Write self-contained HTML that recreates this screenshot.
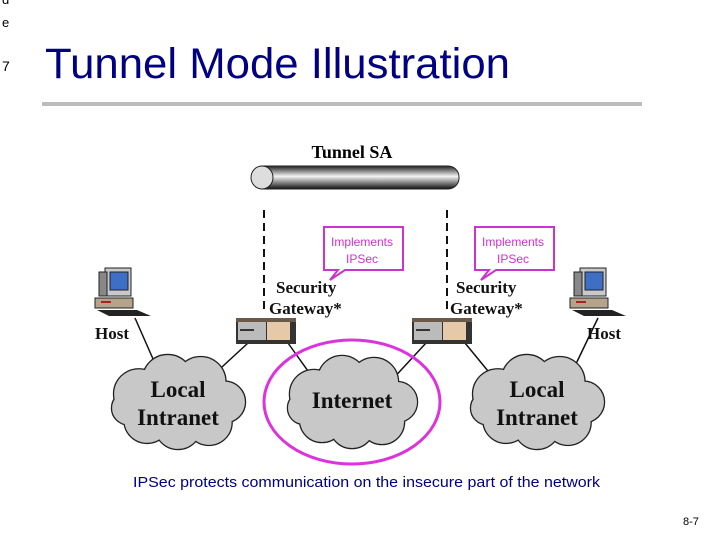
<!DOCTYPE html>
<html><head><meta charset="utf-8"><style>
html,body{margin:0;padding:0;background:#fff;}
svg{display:block;}
</style></head><body>
<svg width="720" height="540" viewBox="0 0 720 540" xmlns="http://www.w3.org/2000/svg">
<defs>
<linearGradient id="tube" x1="0" y1="0" x2="0" y2="1">
<stop offset="0" stop-color="#222"/><stop offset="0.45" stop-color="#f4f4f4"/><stop offset="1" stop-color="#111"/>
</linearGradient>
<g id="cloudshape">
<circle cx="-38" cy="-8" r="24"/><circle cx="-10" cy="-22" r="24"/><circle cx="22" cy="-20" r="24"/>
<circle cx="45" cy="0" r="20"/><circle cx="30" cy="20" r="22"/><circle cx="0" cy="24" r="22"/>
<circle cx="-30" cy="18" r="22"/><circle cx="-48" cy="6" r="16"/><circle cx="0" cy="0" r="30"/>
</g>
<g id="cloud">
<use href="#cloudshape" fill="#c8c8c8" stroke="#222" stroke-width="2.5"/>
<use href="#cloudshape" fill="#c8c8c8"/>
</g>
<g id="pc">
<rect x="10" y="0" width="26" height="28" fill="#c9c9c9" stroke="#222"/>
<rect x="15" y="4" width="18" height="18" fill="#3d6fc4" stroke="#222"/>
<rect x="4" y="4" width="8" height="24" fill="#888" stroke="#222"/>
<rect x="0" y="30" width="38" height="10" fill="#b5a48c" stroke="#222"/>
<line x1="6" y1="34" x2="16" y2="34" stroke="#a22" stroke-width="2"/>
<polygon points="2,42 42,42 56,48 14,48" fill="#222"/>
</g>
<g id="gw">
<rect x="0" y="0" width="60" height="26" fill="#333"/>
<rect x="2" y="4" width="28" height="18" fill="#bbb"/>
<rect x="31" y="4" width="23" height="18" fill="#e5c9a8"/>
<line x1="4" y1="12" x2="18" y2="12" stroke="#333" stroke-width="2"/>
<rect x="0" y="0" width="60" height="4" fill="#6b5a4a"/>
</g>
</defs>

<text x="2" y="4" font-family="Liberation Sans,sans-serif" font-size="13">d</text>
<text x="2" y="27" font-family="Liberation Sans,sans-serif" font-size="13">e</text>
<text x="2" y="71" font-family="Liberation Sans,sans-serif" font-size="14">7</text>
<text x="45" y="78" font-family="Liberation Sans,sans-serif" font-size="43" fill="#000080" textLength="465" lengthAdjust="spacingAndGlyphs">Tunnel Mode Illustration</text>
<rect x="42" y="102" width="600" height="4" fill="#bdbdbd"/>

<text x="352" y="158" text-anchor="middle" font-family="Liberation Serif,serif" font-weight="bold" font-size="18">Tunnel SA</text>
<rect x="252" y="166" width="207" height="23" rx="11" fill="url(#tube)" stroke="#222"/>
<ellipse cx="262" cy="177.5" rx="11" ry="11.5" fill="#ddd" stroke="#222"/>

<line x1="264" y1="210" x2="264" y2="312" stroke="#111" stroke-width="2" stroke-dasharray="8,5"/>
<line x1="447" y1="210" x2="447" y2="312" stroke="#111" stroke-width="2" stroke-dasharray="8,5"/>

<g font-family="Liberation Sans,sans-serif" font-size="12" fill="#cc33cc" text-anchor="middle">
<path d="M324,227 H403 V270 H345 L330,280 L338,270 H324 Z" fill="#fff" stroke="#cc33cc" stroke-width="2"/>
<text x="362" y="246">Implements</text><text x="362" y="263">IPSec</text>
<path d="M475,227 H554 V270 H496 L481,280 L489,270 H475 Z" fill="#fff" stroke="#cc33cc" stroke-width="2"/>
<text x="513" y="246">Implements</text><text x="513" y="263">IPSec</text>
</g>

<g font-family="Liberation Serif,serif" font-weight="bold" font-size="17" fill="#111">
<text x="276" y="293">Security</text><text x="269" y="314">Gateway*</text>
<text x="456" y="293">Security</text><text x="450" y="314">Gateway*</text>
<text x="95" y="339">Host</text><text x="587" y="339">Host</text>
</g>

<g stroke="#111" stroke-width="1.5">
<line x1="135" y1="318" x2="157" y2="368"/>
<line x1="248" y1="343" x2="210" y2="378"/>
<line x1="288" y1="343" x2="318" y2="385"/>
<line x1="426" y1="343" x2="390" y2="382"/>
<line x1="465" y1="343" x2="497" y2="382"/>
<line x1="598" y1="318" x2="574" y2="368"/>
</g>

<use href="#pc" x="95" y="268"/>
<use href="#pc" x="570" y="268"/>
<use href="#gw" x="236" y="318"/>
<use href="#gw" x="412" y="318"/>

<use href="#cloud" transform="translate(178,402) scale(1.03,1.02)"/>
<use href="#cloud" transform="translate(352,402)"/>
<use href="#cloud" transform="translate(537,402) scale(1.03,1.02)"/>

<g font-family="Liberation Serif,serif" font-weight="bold" font-size="23" fill="#111" text-anchor="middle">
<text x="178" y="397">Local</text><text x="178" y="425">Intranet</text>
<text x="352" y="408">Internet</text>
<text x="537" y="397">Local</text><text x="537" y="425">Intranet</text>
</g>
<ellipse cx="352" cy="402" rx="88" ry="62" fill="none" stroke="#dd33dd" stroke-width="3"/>

<text x="133" y="487" font-family="Liberation Sans,sans-serif" font-size="15" fill="#000080" textLength="467" lengthAdjust="spacingAndGlyphs">IPSec protects communication on the insecure part of the network</text>
<text x="683" y="525" font-family="Liberation Sans,sans-serif" font-size="11">8-7</text>
</svg>
</body></html>
